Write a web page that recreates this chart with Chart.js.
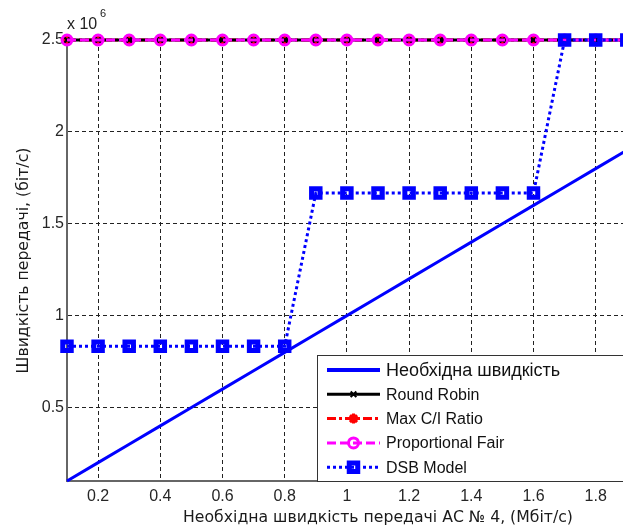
<!DOCTYPE html>
<html>
<head>
<meta charset="utf-8">
<script src="https://cdn.jsdelivr.net/npm/chart.js@4/dist/chart.umd.min.js"></script>
<style>
    html, body { margin: 0; padding: 0; background: #fff; overflow: hidden; }
    #wrap { position: relative; width: 700px; height: 530px; }
</style>
</head>
<body>
<div id="wrap"><canvas id="rateChart"></canvas></div>
<script>
// required rate of AS No 4, Mbit/s
const xValues = [0.1, 0.2, 0.3, 0.4, 0.5, 0.6, 0.7, 0.8, 0.9, 1.0,
                 1.1, 1.2, 1.3, 1.4, 1.5, 1.6, 1.7, 1.8, 1.9, 2.0];

// rates, x 10^6 bit/s
const requiredRate = [0.1, 0.2, 0.3, 0.4, 0.5, 0.6, 0.7, 0.8, 0.9, 1.0,
                      1.1, 1.2, 1.3, 1.4, 1.5, 1.6, 1.7, 1.8, 1.9, 2.0];
const roundRobin = [2.5, 2.5, 2.5, 2.5, 2.5, 2.5, 2.5, 2.5, 2.5, 2.5,
                    2.5, 2.5, 2.5, 2.5, 2.5, 2.5, 2.5, 2.5, 2.5, 2.5];
const maxCIRatio = [2.5, 2.5, 2.5, 2.5, 2.5, 2.5, 2.5, 2.5, 2.5, 2.5,
                    2.5, 2.5, 2.5, 2.5, 2.5, 2.5, 2.5, 2.5, 2.5, 2.5];
const propFair = [2.5, 2.5, 2.5, 2.5, 2.5, 2.5, 2.5, 2.5, 2.5, 2.5,
                  2.5, 2.5, 2.5, 2.5, 2.5, 2.5, 2.5, 2.5, 2.5, 2.5];
const dsbModel = [0.833, 0.833, 0.833, 0.833, 0.833, 0.833, 0.833, 0.833, 1.667, 1.667,
                  1.667, 1.667, 1.667, 1.667, 1.667, 1.667, 2.5, 2.5, 2.5, 2.5];

const xTicks = [0.2, 0.4, 0.6, 0.8, 1.0, 1.2, 1.4, 1.6, 1.8, 2.0];
const yTicks = [0.5, 1.0, 1.5, 2.0, 2.5];

const TICK_FONT = { family: 'Liberation Sans, Arial, sans-serif', size: 16 };
const LABEL_FONT = { family: 'DejaVu Sans, sans-serif', size: 15.7 };

function toPoints(values) {
    return xValues.map((x, i) => ({ x: x, y: values[i] }));
}

// MATLAB style legend box in the lower right corner
const legendBox = {
    id: 'legendBox',
    afterDraw(chart) {
        const ctx = chart.ctx;
        const left = 317, top = 355, width = 360, rowH = 24.3;

        ctx.save();
        ctx.fillStyle = '#fff';
        ctx.strokeStyle = '#333';
        ctx.lineWidth = 1;
        ctx.fillRect(left, top, width, chart.chartArea.bottom - top);
        ctx.strokeRect(left + 0.5, top + 0.5, width, chart.chartArea.bottom - top);

        chart.data.datasets.forEach((ds, i) => {
            const y = top + 15 + i * rowH;
            ctx.save();
            ctx.strokeStyle = ds.borderColor;
            ctx.lineWidth = ds.borderWidth + (i === 0 ? 1 : 0);
            ctx.setLineDash(ds.borderDash || []);
            ctx.beginPath();
            ctx.moveTo(left + 10, y);
            ctx.lineTo(left + 63, y);
            ctx.stroke();
            ctx.restore();

            if (ds.pointRadius > 0 && Chart.helpers && Chart.helpers.drawPoint) {
                ctx.save();
                ctx.strokeStyle = ds.pointBorderColor;
                ctx.fillStyle = ds.pointBackgroundColor;
                ctx.lineWidth = ds.pointBorderWidth;
                ctx.setLineDash([]);
                Chart.helpers.drawPoint(ctx, {
                    pointStyle: ds.pointStyle,
                    radius: ds.pointRadius,
                    borderWidth: ds.pointBorderWidth,
                    rotation: 0
                }, left + 36.5, y);
                ctx.restore();
            }

            // the Cyrillic entry is set a bit larger in the original
            const size = i === 0 ? 18 : 16;
            ctx.fillStyle = '#111';
            ctx.font = size + 'px "Liberation Sans", Arial, sans-serif';
            ctx.textBaseline = 'middle';
            ctx.textAlign = 'left';
            ctx.fillText(ds.label, left + 69, y + 1);
        });

        // exponent label above the y axis
        ctx.fillStyle = '#222';
        ctx.font = '16px "Liberation Sans", Arial, sans-serif';
        ctx.textBaseline = 'middle';
        ctx.fillText('x 10', 67, 25);
        ctx.font = '11px "Liberation Sans", Arial, sans-serif';
        ctx.fillText('6', 100, 14);
        ctx.restore();
    }
};

function renderChart() {
    const ctx = document.getElementById('rateChart').getContext('2d');

    new Chart(ctx, {
        type: 'line',
        data: {
            datasets: [
                {
                    label: 'Необхідна швидкість',
                    data: toPoints(requiredRate),
                    borderColor: '#0000ff',
                    borderWidth: 3,
                    pointRadius: 0,
                    order: 5
                },
                {
                    label: 'Round Robin',
                    data: toPoints(roundRobin),
                    borderColor: '#000000',
                    borderWidth: 3,
                    pointStyle: 'crossRot',
                    pointRadius: 4,
                    pointBorderWidth: 2,
                    pointBorderColor: '#000000',
                    pointBackgroundColor: '#000000',
                    order: 3
                },
                {
                    label: 'Max C/I Ratio',
                    data: toPoints(maxCIRatio),
                    borderColor: '#ff0000',
                    borderWidth: 3,
                    borderDash: [9, 3, 3, 3],
                    pointStyle: 'star',
                    pointRadius: 5,
                    pointBorderWidth: 3,
                    pointBorderColor: '#ff0000',
                    pointBackgroundColor: '#ff0000',
                    order: 4
                },
                {
                    label: 'Proportional Fair',
                    data: toPoints(propFair),
                    borderColor: '#ff00ff',
                    borderWidth: 3,
                    borderDash: [9, 4],
                    pointStyle: 'circle',
                    pointRadius: 5,
                    pointBorderWidth: 3,
                    pointBorderColor: '#ff00ff',
                    pointBackgroundColor: 'rgba(0,0,0,0)',
                    order: 2
                },
                {
                    label: 'DSB Model',
                    data: toPoints(dsbModel),
                    borderColor: '#0000ff',
                    borderWidth: 3,
                    borderDash: [3, 3],
                    pointStyle: 'rect',
                    pointRadius: 6,
                    pointBorderWidth: 5,
                    pointBorderColor: '#0000ff',
                    pointBackgroundColor: 'rgba(0,0,0,0)',
                    order: 1
                }
            ]
        },
        options: {
            responsive: true,
            maintainAspectRatio: false,
            animation: false,
            events: [],
            clip: false,
            layout: { padding: { top: 40, right: 9, left: 0, bottom: 0 } },
            elements: { line: { tension: 0 } },
            scales: {
                x: {
                    type: 'linear',
                    min: 0.1,
                    max: 2.1,
                    afterBuildTicks: axis => { axis.ticks = xTicks.map(v => ({ value: v })); },
                    afterFit: axis => { axis.height = 49; },
                    ticks: {
                        font: TICK_FONT,
                        color: '#262626',
                        padding: 6,
                        maxRotation: 0,
                        callback: v => String(+v.toFixed(1))
                    },
                    grid: { color: '#222', lineWidth: 1, drawTicks: false },
                    border: { color: '#666', width: 2, dash: [4, 3] },
                    title: {
                        display: true,
                        text: 'Необхідна швидкість передачі АС № 4, (Мбіт/с)',
                        font: LABEL_FONT,
                        color: '#1a1a1a',
                        padding: { top: 0, bottom: 3 }
                    }
                },
                y: {
                    type: 'linear',
                    min: 0.1,
                    max: 2.5,
                    afterBuildTicks: axis => { axis.ticks = yTicks.map(v => ({ value: v })); },
                    afterFit: axis => { axis.width = 67; },
                    ticks: {
                        font: TICK_FONT,
                        color: '#262626',
                        padding: 3,
                        callback: v => String(+v.toFixed(1))
                    },
                    grid: { color: '#222', lineWidth: 1, drawTicks: false },
                    border: { color: '#666', width: 2, dash: [4, 3] },
                    title: {
                        display: true,
                        text: 'Швидкість передачі, (біт/с)',
                        font: LABEL_FONT,
                        color: '#1a1a1a',
                        padding: { top: 15, bottom: 0 }
                    }
                }
            },
            plugins: {
                legend: { display: false },
                tooltip: { enabled: false }
            }
        },
        plugins: [legendBox]
    });
}

document.addEventListener('DOMContentLoaded', renderChart);
</script>
</body>
</html>
